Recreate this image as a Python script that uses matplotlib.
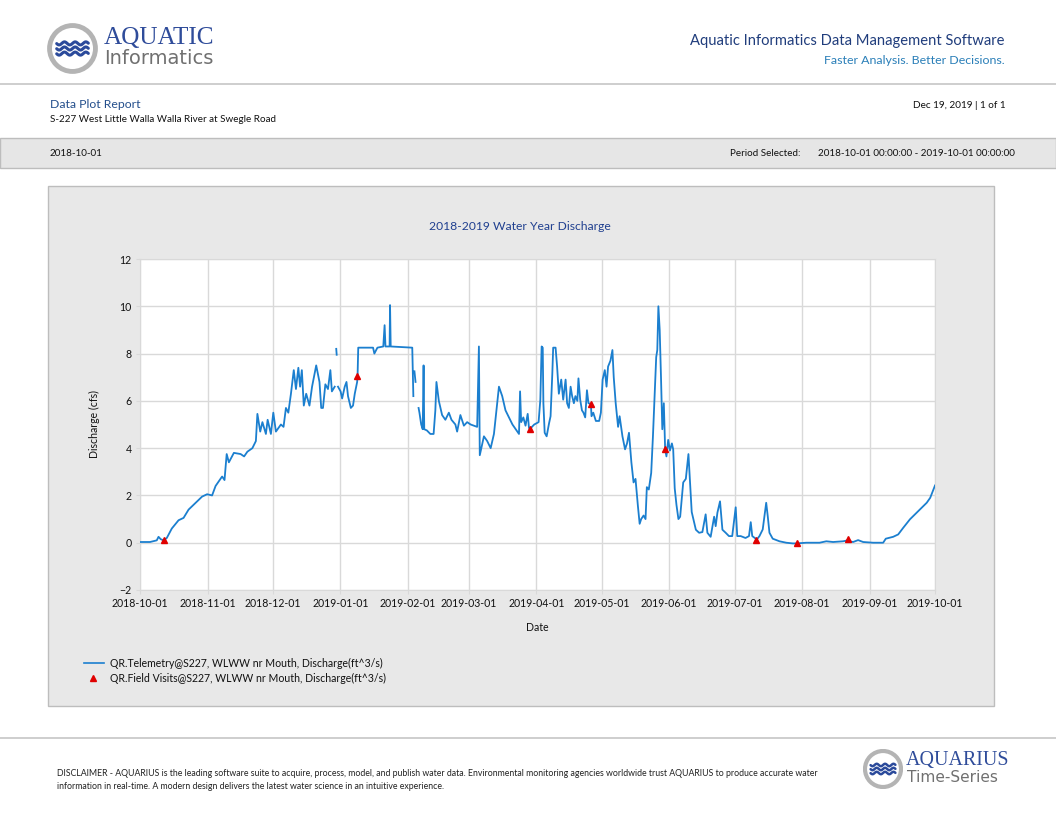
import numpy as np
import matplotlib
matplotlib.use('Agg')
import matplotlib.pyplot as plt
import matplotlib.dates as mdates
from matplotlib.patches import Rectangle, Circle
from matplotlib.lines import Line2D

plt.rcParams['font.family'] = ['Lato', 'DejaVu Sans']

# days after 2018-10-01 00:00 and discharge (cfs); nan = gap in record
start = np.datetime64('2018-10-01T00:00')
tel_day = [0, 4.6, 7.7, 8.5, 9.5, 10.8, 12.3, 14.6, 17.7, 20, 22.3, 26.2, 28.5, 30.8, 33.1,
           34.7, 36.2, 37.7, 38.8, 39.8, 40.8, 43.1, 46.2, 47.8, 49.3, 51.6, 53.2, 53.9,
           55.2, 56.2, 57.8, 58.6, 60.1, 61.2, 62.4, 64.7, 65.9, 67, 68.1, 69.3, 70.6,
           71.6, 72.7, 73.5, 74.3, 75.2, 76.3, 77.8, 79, 80.9, 82.4, 83.2, 84, 85.1,
           86.3, 87.4, 88.1, 89.4, 89.8, 90.1, 90.3, 90.5, 90.9, 92.1, 92.8, 94, 94.8,
           95.5, 96.8, 97.8, 98.6, 99.7, 99.9, 100.2, 107, 107.6, 109, 111.7, 112.3,
           112.7, 114.6, 114.8, 115.1, 125, 125.5, 125.7, 126, 126.5, 126.8, 127.9,
           128.3, 129.1, 129.8, 130.2, 130.5, 131.7, 133.3, 134.8, 135.6, 136.1, 137.2,
           138.7, 140.2, 141.8, 143, 144.8, 145.6, 147.1, 148.7, 150.2, 151.8, 154.8,
           155.6, 156, 157.9, 159.4, 161, 162.5, 164, 164.8, 166.3, 167.8, 171, 174,
           174.5, 175, 176, 177, 178, 178.6, 179.1, 181, 183, 183.8, 184.4, 184.9,
           185.2, 185.8, 186.7, 187.8, 188.5, 189.3, 189.7, 190.8, 191.5, 192.3, 193.4,
           194.3, 195.4, 196.1, 196.9, 197.7, 198.4, 199.2, 199.9, 200.8, 201.3, 202.1,
           202.9, 203.6, 204.4, 205.2, 205.9, 207, 207.3, 208.1, 209.3, 210.8, 211.6,
           212.4, 213.4, 214.2, 214.9, 216, 216.9, 217.5, 218.4, 219.5, 220.2, 221.5,
           222.7, 223.6, 224.5, 225.6, 226.6, 227.5, 228.6, 229.4, 230.1, 231.2, 232.1,
           232.7, 233.6, 234.7, 235.5, 236.2, 237, 237.5, 238, 238.6, 239.2, 239.8,
           240.5, 241.1, 241.7, 242.5, 243.3, 244.2, 244.8, 245.5, 246.3, 247.2, 248,
           248.6, 249.4, 250.6, 251.8, 252.4, 253.3, 255.2, 256.7, 258.2, 259.7, 260.5,
           262, 263.6, 264.3, 265.1, 266.3, 267.4, 268.9, 270.4, 271.9, 273.5, 274.2,
           275.8, 278, 279.6, 280.4, 281.1, 282.7, 282.9, 284.4, 285.9, 287.5, 288.2,
           289, 290.5, 293.6, 296.7, 299.7, 301.3, 305.9, 312, 315.1, 318.2, 322.8,
           324.9, 325.8, 327.4, 329.7, 332, 336.6, 341.2, 342.4, 345.8, 348.1, 350.4,
           353.5, 356.6, 358.9, 361.2, 362.8, 364.3, 365]
tel_cfs = [0.03, 0.03, 0.1, 0.25, 0.15, 0.1, 0.2, 0.6, 0.95, 1.05, 1.4, 1.75, 1.95, 2.05, 2.0,
           2.4, 2.6, 2.8, 2.65, 3.75, 3.4, 3.8, 3.75, 3.65, 3.85, 4.0, 4.3, 5.45,
           4.7, 5.1, 4.6, 5.2, 4.6, 5.5, 4.7, 5.0, 4.9, 5.7, 5.5, 6.3, 7.3,
           6.5, 7.4, 6.6, 7.3, 5.8, 6.3, 5.8, 6.6, 7.5, 6.8, 5.7, 5.7, 6.7,
           6.5, 7.3, 6.4, 6.6, np.nan, 8.2, 7.95, np.nan, 6.6, 6.4, 6.1, 6.6, 6.8,
           6.2, 5.7, 5.8, 6.3, 6.8, 7.1, 8.25, 8.25, 8.0, 8.25, 8.3, 9.2,
           8.3, 8.3, 10.05, 8.3, 8.25, 6.2, np.nan, 7.25, 6.8, np.nan, 5.7,
           5.5, 5.0, 4.8, 7.5, 4.8, 4.75, 4.6, 4.6, 5.6, 6.8, 6.0,
           5.4, 5.2, 5.5, 5.2, 5.0, 4.7, 5.4, 4.95, 5.1, 5.0, 4.9,
           8.3, 3.7, 4.5, 4.3, 4.0, 4.6, 5.9, 6.6, 6.2, 5.6, 5.0, 4.6,
           6.4, 5.1, 5.3, 4.95, 5.45, 4.85, 4.82, 5.0, 5.1, 6.05, 8.3, 8.25,
           5.9, 4.65, 4.5, 5.05, 5.35, 7.15, 8.25, 8.25, 7.45, 6.3, 6.9,
           6.05, 6.9, 5.9, 5.7, 6.6, 6.2, 5.9, 6.2, 6.0, 6.95, 6.05,
           5.6, 5.5, 5.3, 6.45, 5.9, 5.87, 5.35, 5.5, 5.15, 5.15, 5.5,
           6.9, 7.3, 6.6, 7.45, 7.7, 8.15, 7.0, 5.9, 4.9, 5.35, 4.5,
           3.95, 4.2, 4.65, 3.4, 2.55, 2.7, 1.55, 0.8, 1.0, 1.15, 1.0,
           2.35, 2.25, 2.95, 4.5, 6.05, 7.85, 8.15, 10.0, 9.0, 7.0, 4.8,
           5.9, 3.95, 3.65, 4.35, 3.9, 4.2, 3.95, 2.3, 1.6, 1.0, 1.1,
           1.7, 2.55, 2.7, 3.75, 2.8, 1.3, 0.55, 0.42, 0.45, 1.2, 0.42,
           0.25, 1.1, 0.7, 1.27, 1.75, 0.55, 0.42, 0.28, 0.28, 1.5, 0.28,
           0.28, 0.2, 0.28, 0.87, 0.28, 0.17, 0.1, 0.28, 0.56, 1.69, 1.13,
           0.42, 0.17, 0.06, 0.0, -0.03, -0.03, 0.0, 0.0, 0.06, 0.03, 0.06,
           0.1, 0.06, 0.03, 0.11, 0.03, 0.0, 0.0, 0.17, 0.25, 0.35, 0.63,
           0.99, 1.27, 1.48, 1.69, 1.9, 2.25, 2.42]

visit_day = [11.2, 99.8, 179.1, 207, 241.2, 282.9, 301.5, 325.0]
visit_cfs = [0.1, 7.07, 4.82, 5.87, 3.95, 0.1, -0.03, 0.14]

disclaimer = ("DISCLAIMER - AQUARIUS is the leading software suite to acquire, process, model, and publish water data. "
              "Environmental monitoring agencies worldwide trust AQUARIUS to produce accurate water\n"
              "information in real-time. A modern design delivers the latest water science in an intuitive experience.")


def to_dates(days):
    return start + (np.array(days) * 1440).round().astype('timedelta64[m]')


W, H = 1056, 816


def fx(x):
    return x / W


def fy(y):
    return 1 - y / H


fig = plt.figure(figsize=(W / 100, H / 100), dpi=100)
fig.patch.set_facecolor('white')

# header logo
lg = fig.add_axes([fx(47), fy(74), 51 / W, 51 / H])
lg.set_xlim(-1, 1)
lg.set_ylim(-1, 1)
lg.set_aspect('equal')
lg.axis('off')
lg.add_patch(Circle((0, 0), 0.9, facecolor='white', edgecolor='#b4b4b4', lw=3.5))
wx = np.linspace(-0.62, 0.62, 60)
for off in (0.2, 0.0, -0.2):
    lg.plot(wx, off + 0.06 * np.sin(wx * 15), color='#2b4a9b', lw=2.2, solid_capstyle='round')

fig.text(fx(104), fy(38), 'AQUATIC', fontsize=18.2, color='#2f4c9a',
         family=['Liberation Serif', 'DejaVu Serif'], va='center', ha='left')
fig.text(fx(104), fy(59), 'Informatics', fontsize=14, color='#707070', va='center', ha='left',
         family=['DejaVu Sans'])
fig.text(fx(1005), fy(41), 'Aquatic Informatics Data Management Software', fontsize=10.6,
         color='#203d7c', ha='right', va='center')
fig.text(fx(1005), fy(60), 'Faster Analysis. Better Decisions.', fontsize=8.9,
         color='#2a7fb8', ha='right', va='center')

fig.add_artist(Line2D([0, 1], [fy(84), fy(84)], color='#c6c6c6', lw=1.2))

fig.text(fx(50), fy(104), 'Data Plot Report', fontsize=8.8, color='#244f8c', va='center')
fig.text(fx(50), fy(119), 'S-227 West Little Walla Walla River at Swegle Road', fontsize=7.1,
         color='#111111', va='center')
fig.text(fx(1006), fy(106), 'Dec 19, 2019 | 1 of 1', fontsize=7.2, color='#111111',
         ha='right', va='center')

# period band
band = Rectangle((0, fy(168)), 1, 30 / H, facecolor='#e6e6e6', edgecolor='#bdbdbd',
                 lw=1, transform=fig.transFigure, zorder=-2)
fig.add_artist(band)
fig.text(fx(50), fy(153), '2018-10-01', fontsize=7.1, color='#111111', va='center')
fig.text(fx(730), fy(153), 'Period Selected:', fontsize=7.1, color='#111111', va='center')
fig.text(fx(818), fy(153), '2018-10-01 00:00:00 - 2019-10-01 00:00:00', fontsize=7.1,
         color='#111111', va='center')

# chart panel
panel = Rectangle((fx(48), fy(706)), 946 / W, 520 / H, facecolor='#e8e8e8',
                  edgecolor='#bdbdbd', lw=1, transform=fig.transFigure, zorder=-2)
fig.add_artist(panel)
fig.text(fx(520), fy(226), '2018-2019 Water Year Discharge', fontsize=8.7, color='#1f3f8f',
         ha='center', va='center')

ax = fig.add_axes([fx(140), fy(590), 795 / W, 331 / H])
ax.set_facecolor('white')
ax.plot(to_dates(tel_day), tel_cfs, color='#1b7fcf', lw=1.3, zorder=3)
ax.plot(to_dates(visit_day), visit_cfs, linestyle='none', marker='^', color='#e00000',
        markersize=5, zorder=4)
ax.set_xlim(start, np.datetime64('2019-10-01T00:00'))
ax.set_ylim(-2, 12)
ax.set_yticks(range(-2, 13, 2))
ax.xaxis.set_major_locator(mdates.MonthLocator())
ax.xaxis.set_major_formatter(mdates.DateFormatter('%Y-%m-%d'))
ax.grid(True, color='#d9d9d9', lw=1)
ax.set_axisbelow(True)
for s in ax.spines.values():
    s.set_color('#d9d9d9')
ax.tick_params(labelsize=7.6, colors='#d9d9d9', labelcolor='#111111', length=3, pad=3)
ax.set_xlabel('Date', fontsize=7.6, color='#111111', labelpad=9)
ax.set_ylabel('Discharge (cfs)', fontsize=7.6, color='#111111', labelpad=14)

# legend
fig.add_artist(Line2D([fx(84), fx(104)], [fy(663), fy(663)], color='#1b7fcf', lw=1.2))
fig.text(fx(110), fy(663), 'QR.Telemetry@S227, WLWW nr Mouth, Discharge(ft^3/s)', fontsize=7.6,
         color='#111111', va='center')
fig.add_artist(Line2D([fx(93)], [fy(678)], marker='^', color='#e00000', markersize=4.5,
                      linestyle='none'))
fig.text(fx(110), fy(678), 'QR.Field Visits@S227, WLWW nr Mouth, Discharge(ft^3/s)', fontsize=7.6,
         color='#111111', va='center')

# footer
fig.add_artist(Line2D([0, 1], [fy(738), fy(738)], color='#c6c6c6', lw=1.2))
fig.text(fx(57), fy(780), disclaimer, fontsize=6.3, color='#222222', va='center',
         linespacing=1.7)

lg2 = fig.add_axes([fx(863), fy(789), 40 / W, 40 / H])
lg2.set_xlim(-1, 1)
lg2.set_ylim(-1, 1)
lg2.set_aspect('equal')
lg2.axis('off')
lg2.add_patch(Circle((0, 0), 0.9, facecolor='white', edgecolor='#b4b4b4', lw=3))
for off in (0.2, 0.0, -0.2):
    lg2.plot(wx, off + 0.06 * np.sin(wx * 15), color='#2b4a9b', lw=1.8, solid_capstyle='round')
fig.text(fx(906), fy(761), 'AQUARIUS', fontsize=14.4, color='#2f4c9a',
         family=['Liberation Serif', 'DejaVu Serif'], va='center', ha='left')
fig.text(fx(907), fy(778), 'Time-Series', fontsize=11.1, color='#707070', va='center', ha='left',
         family=['DejaVu Sans'])

fig.savefig('out.png', dpi=100, facecolor='white')
